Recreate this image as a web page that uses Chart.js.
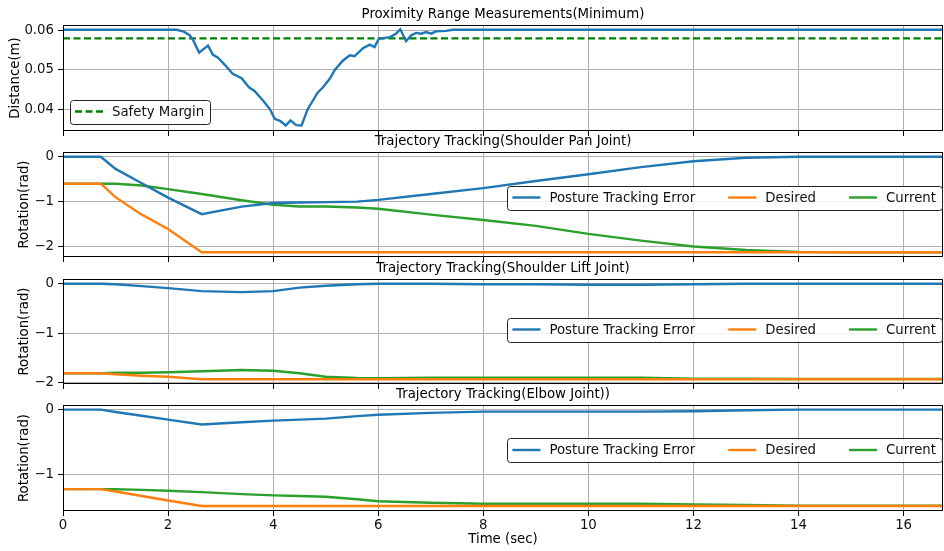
<!DOCTYPE html>
<html>
<head>
<meta charset="utf-8">
<script src="https://cdn.jsdelivr.net/npm/chart.js@4.4.1/dist/chart.umd.min.js"></script>
<style>
  body { margin: 0; background: #fff; }
  #wrap { position: relative; width: 944px; height: 551px; }
  canvas { position: absolute; left: 0; }
</style>
</head>
<body>
<div id="wrap">
  <canvas id="proxChart" width="944" height="140" style="top:0px"></canvas>
  <canvas id="panChart" width="944" height="139" style="top:127px"></canvas>
  <canvas id="liftChart" width="944" height="139" style="top:254px"></canvas>
  <canvas id="elbowChart" width="944" height="171" style="top:380px"></canvas>
</div>
<script>
// proximity sensor (minimum distance) over time
var proxT = [0, 2.16, 2.3, 2.41, 2.48, 2.59, 2.76, 2.85, 2.95, 3.08, 3.23, 3.40, 3.54, 3.65, 3.81, 3.94,
             4.03, 4.14, 4.24, 4.33, 4.44, 4.54, 4.66, 4.85, 4.95, 5.08, 5.17, 5.33, 5.46, 5.55, 5.71,
             5.84, 5.93, 6.01, 6.22, 6.34, 6.42, 6.53, 6.63, 6.72, 6.82, 6.91, 7.01, 7.10, 7.29, 7.42, 16.75];
var proxV = [0.0602, 0.0602, 0.0597, 0.0588, 0.0575, 0.0544, 0.0562, 0.0539, 0.0531, 0.0513, 0.0490, 0.0479,
             0.0456, 0.0446, 0.0422, 0.0400, 0.0376, 0.0370, 0.0359, 0.0372, 0.0360, 0.0359, 0.0401, 0.0443,
             0.0456, 0.0478, 0.0499, 0.0524, 0.0537, 0.0535, 0.0555, 0.0564, 0.0558, 0.0579, 0.0583, 0.0592,
             0.0603, 0.0573, 0.0588, 0.0594, 0.0592, 0.0596, 0.0592, 0.0598, 0.0599, 0.0602, 0.0602];
var safetyT = [0, 16.75];
var safetyV = [0.058, 0.058];

// joint trajectories, sampled at the same times
var jointT = [0, 0.72, 1.0, 1.5, 2.0, 2.64, 3.4, 4.0, 4.5, 5.0, 5.6, 6.0, 7.0, 8.0, 9.0, 10.0,
              11.0, 12.0, 13.0, 14.0, 15.0, 16.75];

var panError   = [0, 0, -0.27, -0.59, -0.91, -1.28, -1.11, -1.03, -1.02, -1.01, -1.0, -0.96, -0.83, -0.70,
                  -0.54, -0.39, -0.23, -0.10, -0.02, 0, 0, 0];
var panDesired = [-0.6, -0.6, -0.9, -1.29, -1.61, -2.13, -2.13, -2.13, -2.13, -2.13, -2.13, -2.13, -2.13,
                  -2.13, -2.13, -2.13, -2.13, -2.13, -2.13, -2.13, -2.13, -2.13];
var panCurrent = [-0.6, -0.6, -0.6, -0.64, -0.72, -0.83, -0.97, -1.07, -1.11, -1.11, -1.13, -1.16, -1.29,
                  -1.41, -1.54, -1.72, -1.87, -2.0, -2.08, -2.12, -2.13, -2.13];

var liftError   = [0, 0, -0.01, -0.05, -0.09, -0.15, -0.17, -0.15, -0.08, -0.04, -0.01, 0, 0, -0.01,
                   -0.01, -0.02, -0.02, -0.01, 0, 0, 0, 0];
var liftDesired = [-1.81, -1.81, -1.83, -1.86, -1.88, -1.93, -1.93, -1.93, -1.93, -1.93, -1.93, -1.93,
                   -1.93, -1.93, -1.93, -1.93, -1.93, -1.93, -1.93, -1.93, -1.93, -1.93];
var liftCurrent = [-1.81, -1.81, -1.80, -1.80, -1.79, -1.77, -1.745, -1.76, -1.81, -1.88, -1.905, -1.91,
                   -1.90, -1.90, -1.90, -1.90, -1.90, -1.92, -1.92, -1.925, -1.925, -1.925];

var elbowError   = [0, 0, -0.036, -0.095, -0.155, -0.23, -0.195, -0.17, -0.155, -0.14, -0.1, -0.08, -0.05,
                    -0.03, -0.03, -0.03, -0.03, -0.025, -0.01, 0, 0, 0];
var elbowDesired = [-1.233, -1.233, -1.27, -1.34, -1.41, -1.495, -1.495, -1.495, -1.495, -1.495, -1.495,
                    -1.495, -1.495, -1.495, -1.495, -1.495, -1.495, -1.495, -1.495, -1.495, -1.495, -1.495];
var elbowCurrent = [-1.233, -1.233, -1.235, -1.245, -1.258, -1.28, -1.31, -1.33, -1.34, -1.35, -1.39,
                    -1.42, -1.445, -1.46, -1.46, -1.46, -1.46, -1.47, -1.48, -1.49, -1.49, -1.49];

// tick labels
var timeTicks = [0, 2, 4, 6, 8, 10, 12, 14, 16];
var proxTicks = [0.04, 0.05, 0.06];
var panTicks = [-2, -1, 0];
var liftTicks = [-2, -1, 0];
var elbowTicks = [-1, 0];

var BLUE = '#1f77b4', ORANGE = '#ff7f0e', GREEN = '#2ca02c';
var FONT = 'DejaVu Sans';

Chart.defaults.font.family = FONT;
Chart.defaults.font.size = 13.3;
Chart.defaults.color = '#111';

function pts(t, v) {
    return t.map(function(x, i) { return {x: x, y: v[i]}; });
}

function line(label, t, v, color, dash) {
    return {
        label: label,
        data: pts(t, v),
        borderColor: color,
        backgroundColor: color,
        borderWidth: 2.4,
        borderDash: dash || [],
        pointRadius: 0,
        tension: 0,
        fill: false
    };
}

function minus(v) {
    return v < 0 ? '\u2212' + Math.abs(v) : String(v);
}

// frame round the axes and a matplotlib-like legend inside the plot
var axesBox = {
    id: 'axesBox',
    afterDatasetsDraw: function(chart, args, opts) {
        var a = chart.chartArea, ctx = chart.ctx;
        ctx.save();
        ctx.strokeStyle = '#000';
        ctx.lineWidth = 1;
        ctx.strokeRect(Math.round(a.left) + 0.5, Math.round(a.top) + 0.5,
                       Math.round(a.right - a.left) - 1, Math.round(a.bottom - a.top) - 1);

        var items = chart.data.datasets.filter(function(d) { return d.label; });
        ctx.font = '13.3px "' + FONT + '"';
        var widths = items.map(function(d) { return ctx.measureText(d.label).width; });
        var w = 5 + 7;
        widths.forEach(function(tw) { w += 28 + 9 + tw; });
        w += 33 * (items.length - 1);
        var left = opts.side === 'left' ? a.left + 7 : a.right - w;
        var cy = a.top + opts.y;
        ctx.beginPath();
        ctx.roundRect(Math.round(left) + 0.5, Math.round(cy - 12) + 0.5, Math.round(w) - 1, 24, 3);
        ctx.fillStyle = 'rgba(255,255,255,0.85)';
        ctx.fill();
        ctx.strokeStyle = '#222';
        ctx.stroke();

        var x = left + 5;
        items.forEach(function(d, i) {
            ctx.beginPath();
            ctx.setLineDash(d.borderDash || []);
            ctx.strokeStyle = d.borderColor;
            ctx.lineWidth = d.borderWidth;
            ctx.moveTo(x, cy);
            ctx.lineTo(x + 28, cy);
            ctx.stroke();
            ctx.setLineDash([]);
            ctx.fillStyle = '#111';
            ctx.textBaseline = 'middle';
            ctx.textAlign = 'left';
            ctx.fillText(d.label, x + 37, cy + 1);
            x += 28 + 9 + widths[i] + 33;
        });
        ctx.restore();
    }
};

function makeChart(id, cfg) {
    var ctx = document.getElementById(id).getContext('2d');
    return new Chart(ctx, {
        type: 'line',
        data: { datasets: cfg.datasets },
        plugins: [axesBox],
        options: {
            responsive: false,
            animation: false,
            layout: { autoPadding: false, padding: { left: 0, right: 1, top: 0, bottom: 0 } },
            plugins: {
                legend: { display: false },
                tooltip: { enabled: false },
                title: {
                    display: true,
                    fullSize: false,
                    text: cfg.title,
                    color: '#000',
                    font: { size: 13.3, weight: 'normal', lineHeight: 1 },
                    padding: { top: 8.35, bottom: 3.35 }
                },
                axesBox: cfg.legend
            },
            scales: {
                x: {
                    type: 'linear',
                    min: 0,
                    max: 16.75,
                    afterBuildTicks: function(s) { s.ticks = timeTicks.map(function(v) { return {value: v}; }); },
                    afterFit: function(s) { s.height = cfg.xHeight; s.paddingLeft = 0; s.paddingRight = 0; },
                    grid: { color: '#b0b0b0', lineWidth: 1, tickColor: '#000', tickLength: 5, drawTicks: true },
                    border: { display: false },
                    ticks: { display: cfg.xLabels, padding: 2, maxRotation: 0, callback: function(v) { return String(v); } },
                    title: {
                        display: cfg.xLabels,
                        text: 'Time (sec)',
                        color: '#000',
                        font: { size: 13.3 },
                        padding: { top: 0, bottom: 3 }
                    }
                },
                y: {
                    type: 'linear',
                    min: cfg.yMin,
                    max: cfg.yMax,
                    afterBuildTicks: function(s) { s.ticks = cfg.yTicks.map(function(v) { return {value: v}; }); },
                    afterFit: function(s) { s.width = 63; s.paddingTop = 0; s.paddingBottom = 0; },
                    grid: { color: '#b0b0b0', lineWidth: 1, tickColor: '#000', tickLength: 5, drawTicks: true },
                    border: { display: false },
                    ticks: { padding: 4, callback: cfg.yFormat },
                    title: {
                        display: true,
                        text: cfg.yTitle,
                        color: '#000',
                        font: { size: 13.3 },
                        padding: { top: cfg.yTitlePad, bottom: 0 }
                    }
                }
            }
        }
    });
}

makeChart('proxChart', {
    title: 'Proximity Range Measurements(Minimum)',
    datasets: [
        line('', proxT, proxV, BLUE),
        line('Safety Margin', safetyT, safetyV, '#008000', [7, 3.5])
    ],
    yMin: 0.0345, yMax: 0.0614, yTicks: proxTicks,
    yFormat: function(v) { return v.toFixed(2); },
    yTitle: 'Distance(m)', yTitlePad: 7.5,
    xHeight: 9, xLabels: false,
    legend: { side: 'left', y: 86.5 }
});

makeChart('panChart', {
    title: 'Trajectory Tracking(Shoulder Pan Joint)',
    datasets: [
        line('Posture Tracking Error', jointT, panError, BLUE),
        line('Desired', jointT, panDesired, ORANGE),
        line('Current', jointT, panCurrent, GREEN)
    ],
    yMin: -2.235, yMax: 0.107, yTicks: panTicks, yFormat: minus,
    yTitle: 'Rotation(rad)', yTitlePad: 17,
    xHeight: 9, xLabels: false,
    legend: { side: 'right', y: 45.5 }
});

makeChart('liftChart', {
    title: 'Trajectory Tracking(Shoulder Lift Joint)',
    datasets: [
        line('Posture Tracking Error', jointT, liftError, BLUE),
        line('Desired', jointT, liftDesired, ORANGE),
        line('Current', jointT, liftCurrent, GREEN)
    ],
    yMin: -2.027, yMax: 0.095, yTicks: liftTicks, yFormat: minus,
    yTitle: 'Rotation(rad)', yTitlePad: 17,
    xHeight: 9, xLabels: false,
    legend: { side: 'right', y: 50.5 }
});

makeChart('elbowChart', {
    title: 'Trajectory Tracking(Elbow Joint))',
    datasets: [
        line('Posture Tracking Error', jointT, elbowError, BLUE),
        line('Desired', jointT, elbowDesired, ORANGE),
        line('Current', jointT, elbowCurrent, GREEN)
    ],
    yMin: -1.572, yMax: 0.072, yTicks: elbowTicks, yFormat: minus,
    yTitle: 'Rotation(rad)', yTitlePad: 17,
    xHeight: 40, xLabels: true,
    legend: { side: 'right', y: 45 }
});
</script>
</body>
</html>
